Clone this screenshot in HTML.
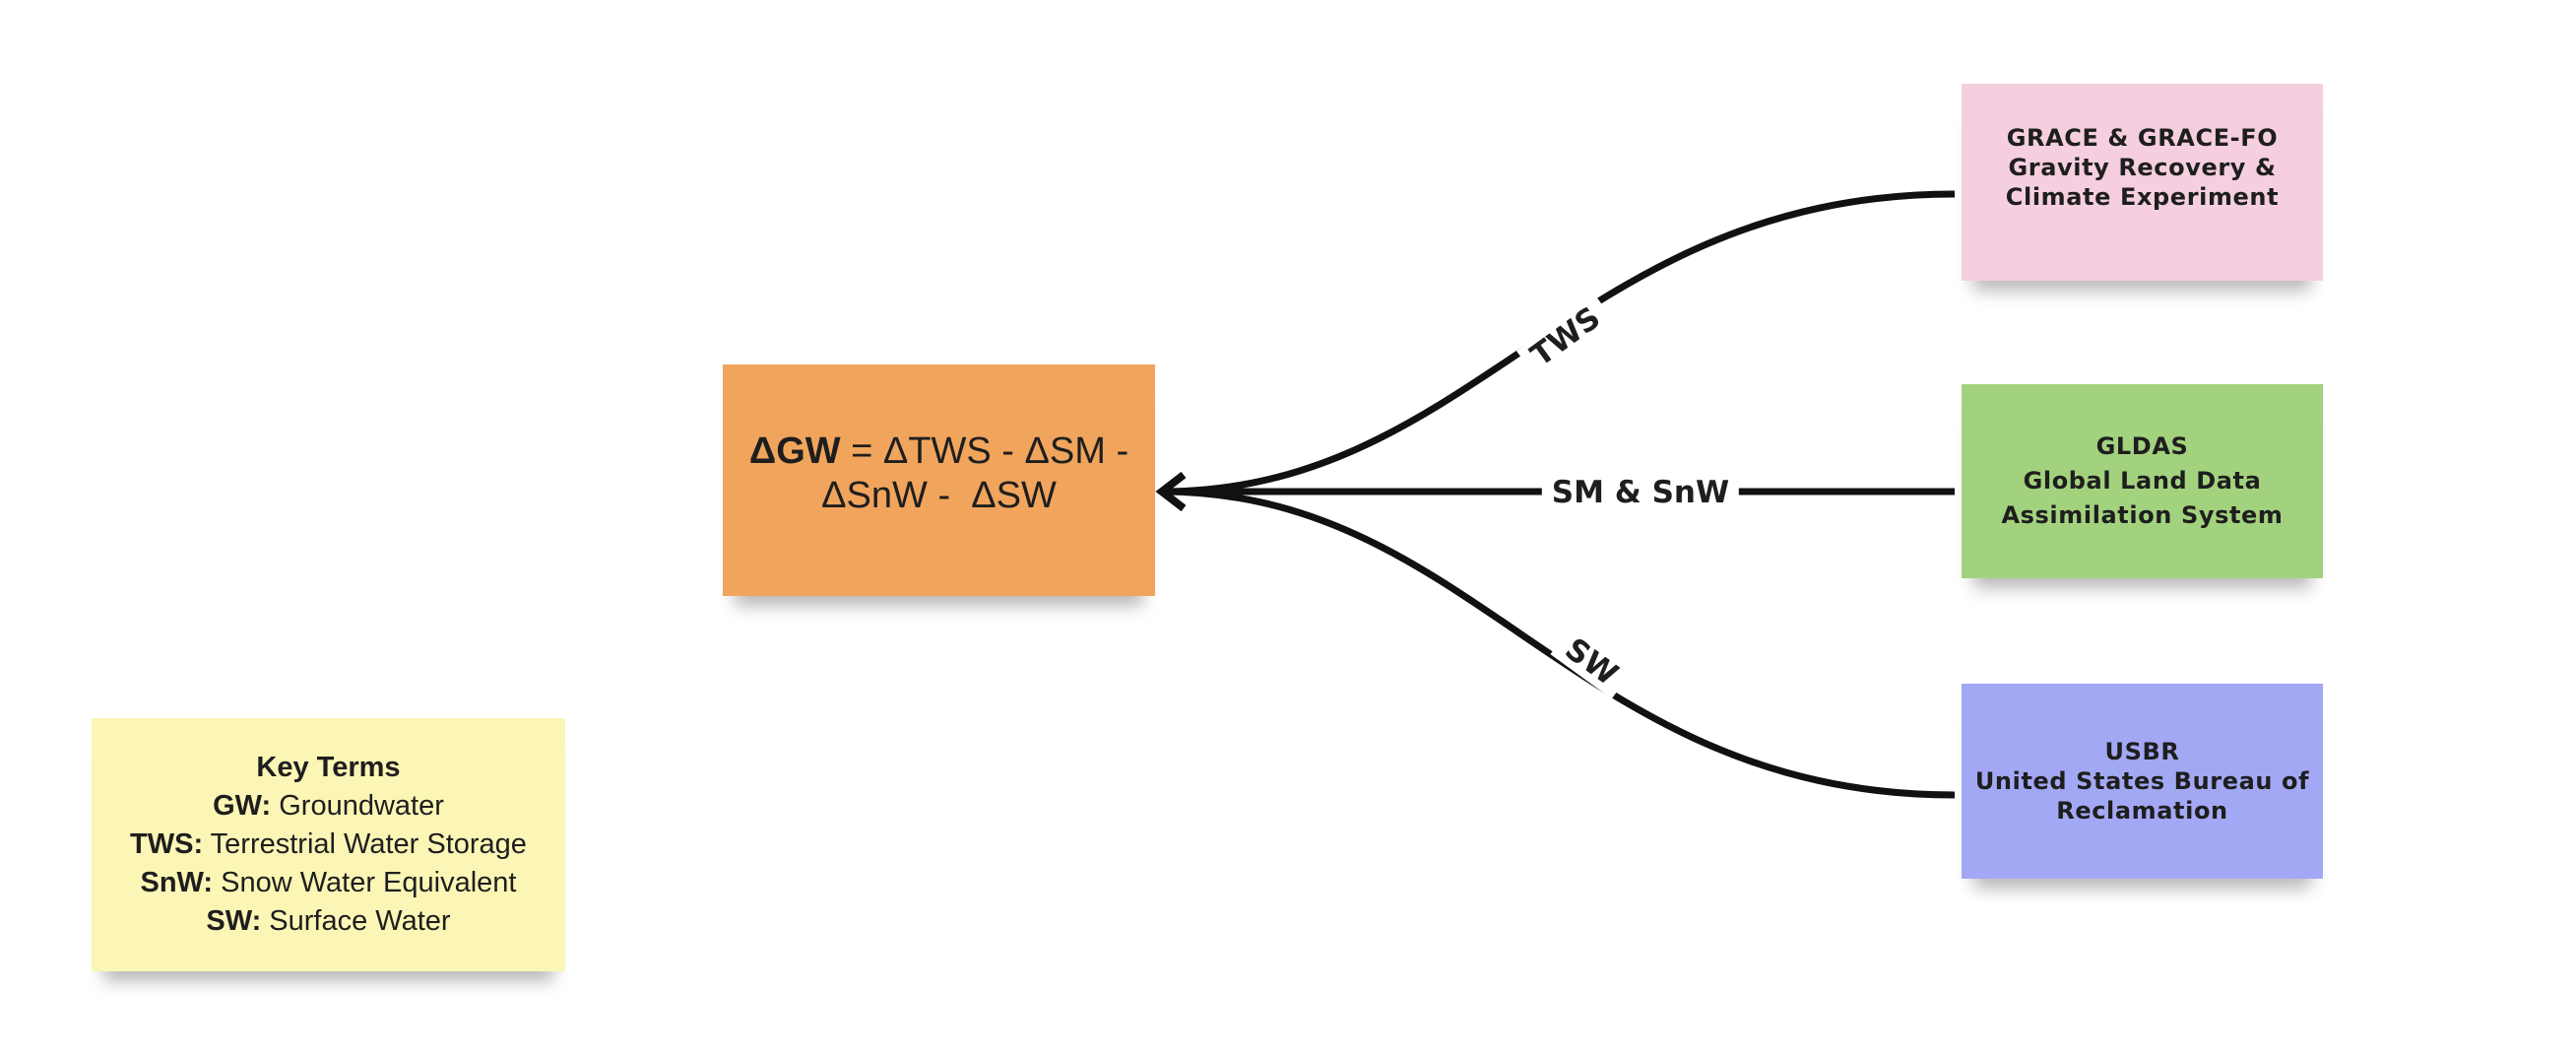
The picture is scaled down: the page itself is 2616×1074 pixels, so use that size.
<!DOCTYPE html>
<html><head><meta charset="utf-8"><style>
html,body{margin:0;padding:0;background:#fff;}
body{width:2616px;height:1074px;position:relative;overflow:hidden;font-family:"Liberation Sans","DejaVu Sans",sans-serif;color:#1e1e1e;}
.n{position:absolute;display:flex;align-items:center;justify-content:center;text-align:center;box-shadow:0 22px 16px -12px rgba(0,0,0,.28);}
.r{font-family:"DejaVu Sans",sans-serif;font-weight:bold;font-size:24px;line-height:30px;letter-spacing:0.6px;}
.lbl{position:absolute;font-family:"DejaVu Sans",sans-serif;font-weight:bold;font-size:31px;background:#fff;padding:0 10px;transform:translate(-50%,-50%);white-space:nowrap;}
</style></head><body>
<svg width="2616" height="1074" style="position:absolute;left:0;top:0">
<g fill="none" stroke="#111" stroke-width="7">
<path d="M1985 197 C1600 197 1500 499 1180 499"/>
<path d="M1985 499 L1180 499"/>
<path d="M1985 807 C1600 807 1500 499 1180 499"/>
<path d="M1202 482 L1180 499 L1202 516" stroke-width="8" stroke-linejoin="miter"/>
</g></svg>
<div class="n r" style="left:1992px;top:85px;width:367px;height:200px;background:#f5cfdf;padding-bottom:30px;box-sizing:border-box">GRACE &amp; GRACE-FO<br>Gravity Recovery &amp;<br>Climate Experiment</div>
<div class="n r" style="left:1992px;top:390px;width:367px;height:197px;background:#a3d27f;line-height:35px">GLDAS<br>Global Land Data<br>Assimilation System</div>
<div class="n r" style="left:1992px;top:694px;width:367px;height:198px;background:#a3a8f4">USBR<br>United States Bureau of<br>Reclamation</div>
<div class="n" style="left:734px;top:370px;width:439px;height:235px;background:#f1a55c;font-size:38px;line-height:45px;padding-bottom:14px;box-sizing:border-box"><div><b>ΔGW</b> = ΔTWS - ΔSM -<br>ΔSnW -&nbsp; ΔSW</div></div>
<div class="n" style="left:93px;top:729px;width:481px;height:257px;background:#fbf6b5;font-size:29px;line-height:39px"><div><b>Key Terms</b><br><b>GW:</b> Groundwater<br><b>TWS:</b> Terrestrial Water Storage<br><b>SnW:</b> Snow Water Equivalent<br><b>SW:</b> Surface Water</div></div>
<div class="lbl" style="left:1590px;top:342px;transform:translate(-50%,-50%) rotate(-36deg)">TWS</div>
<div class="lbl" style="left:1666px;top:500px">SM &amp; SnW</div>
<div class="lbl" style="left:1616px;top:672px;transform:translate(-50%,-50%) rotate(36deg)">SW</div>
</body></html>
